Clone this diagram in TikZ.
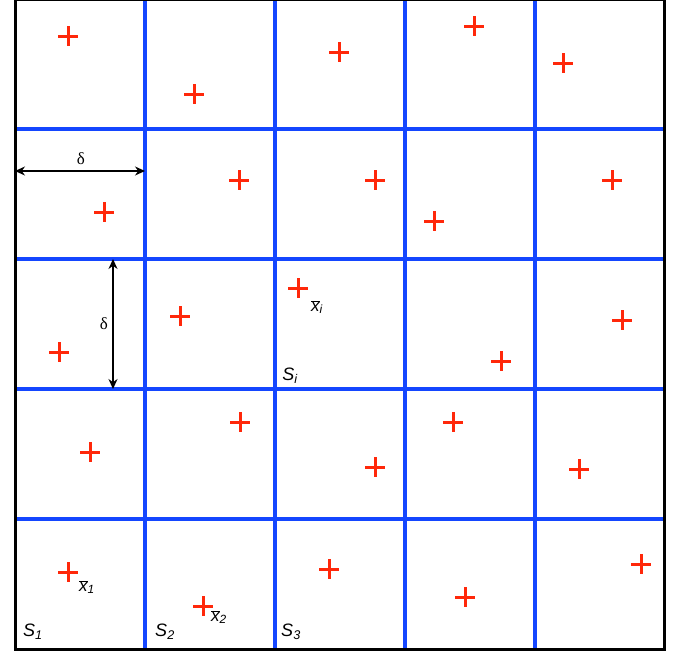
\documentclass[tikz,border=0pt]{standalone}
\usepackage{fontspec}
\setmainfont{Liberation Sans}
\newfontfamily\deltafont{Liberation Serif}
\usetikzlibrary{arrows.meta}
\newcommand\xbarlbl[1]{$\overline{\hbox{\itshape x}}$\textsubscript{\itshape #1}}
\tikzset{
  gridline/.style={draw={rgb,255:red,20;green,70;blue,255}, line width=3.2pt},
  frameline/.style={draw=black, line width=3pt},
  plusmark/.style={draw={rgb,255:red,255;green,40;blue,10}, line width=3pt},
  dimarrow/.style={draw=black, line width=1.2pt, {Stealth[length=10pt,width=9pt]}-{Stealth[length=10pt,width=9pt]}},
  slabel/.style={font=\fontsize{18}{20}\selectfont\itshape, inner sep=0pt},
  xlabel/.style={font=\fontsize{17}{19}\selectfont, inner sep=0pt},
  dlabel/.style={font=\fontsize{17}{19}\selectfont\deltafont, inner sep=0pt}
}
\begin{document}
\begin{tikzpicture}[x=1pt,y=-1pt]
\useasboundingbox (0,0) rectangle (683,656);
\begin{scope}
\clip (0,0) rectangle (683,656);
% grid lines
\foreach \gx in {145,275,405,535} {
  \draw[gridline] (\gx,-1) -- (\gx,649);
}
\foreach \gy in {129,259,389,519} {
  \draw[gridline] (15,\gy) -- (664,\gy);
}
% frame
\draw[frameline] (15,-1) rectangle (664,649);
% plus marks
\foreach \px/\py in {68/36,194/94,339/52,474/26,563/63,
                     104/212,239/180,375/180,434/221,612/180,
                     59/352,180/316,298/288,501/361,622/320,
                     90/452,240/422,375/467,453/422,579/469,
                     68/572,203/606,329/569,465/597,641/564} {
  \draw[plusmark] (\px-10,\py) -- (\px+10,\py) (\px,\py-10) -- (\px,\py+10);
}
\end{scope}
% delta dimensions
\coordinate (hl) at (15,171);
\coordinate (hr) at (145,171);
\draw[dimarrow] (hl) -- (hr);
\node[dlabel] (d1) at (81,159) {δ};
\coordinate (vt) at (113,259);
\coordinate (vb) at (113,389);
\draw[dimarrow] (vt) -- (vb);
\node[dlabel] (d2) at (104,324) {δ};
% labels
\node[xlabel] (xi) at (317,307) {\xbarlbl{i}};
\node[slabel] (si) at (290,376) {S\textsubscript{i}};
\node[xlabel] (x1) at (87,587) {\xbarlbl{1}};
\node[xlabel] (x2) at (219,617) {\xbarlbl{2}};
\node[slabel] (s1) at (33,632) {S\textsubscript{1}};
\node[slabel] (s2) at (165,632) {S\textsubscript{2}};
\node[slabel] (s3) at (291,632) {S\textsubscript{3}};
\end{tikzpicture}
\end{document}
